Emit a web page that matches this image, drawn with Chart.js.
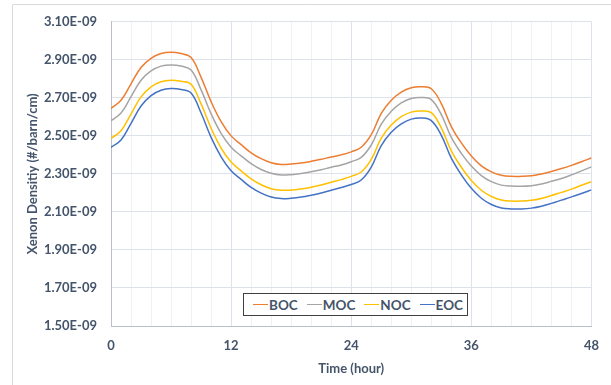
<!DOCTYPE html>
<html>
<head>
<meta charset="utf-8">
<script src="https://cdn.jsdelivr.net/npm/chart.js@4"></script>
<style>
  html, body { margin: 0; padding: 0; background: #fff; }
  #wrap { position: relative; width: 611px; height: 385px; }
  #legend {
    position: absolute; left: 243px; top: 293px; width: 214px; height: 21px;
    border: 1px solid #404040; background: #fff;
    font: bold 13.5px Lato, "Open Sans", sans-serif; color: #44546A;
    display: flex; align-items: center; padding-left: 9px; box-sizing: content-box;
  }
  #legend span.item { display: flex; align-items: center; margin-right: 9px; }
  #legend span.sw { display: inline-block; width: 15px; height: 1.5px; margin-right: 1px; }
</style>
</head>
<body>
<div id="wrap">
  <canvas id="c" width="611" height="385"></canvas>
  <div id="legend"></div>
</div>
<script>
// Xenon density over 48 h, four core states (values in units of 1E-09 #/barn/cm)
const hours = [0,1,2,3,4,5,6,7,8,9,10,11,12,13,14,15,16,17,18,19,20,21,22,23,24,
  25,26,27,28,29,30,31,32,33,34,35,36,37,38,39,40,41,42,43,44,45,46,47,48];

const boc = [2.645,2.687,2.774,2.860,2.908,2.933,2.940,2.933,2.912,2.808,2.680,2.575,2.500,
  2.454,2.411,2.380,2.359,2.350,2.352,2.357,2.366,2.377,2.389,2.400,2.416,
  2.440,2.506,2.618,2.687,2.730,2.753,2.758,2.748,2.670,2.549,2.463,2.394,
  2.342,2.311,2.293,2.287,2.287,2.290,2.300,2.313,2.328,2.345,2.364,2.384];
const moc = [2.580,2.620,2.706,2.793,2.842,2.867,2.873,2.867,2.846,2.742,2.616,2.513,2.440,
  2.395,2.354,2.323,2.303,2.294,2.296,2.302,2.311,2.322,2.335,2.347,2.364,
  2.387,2.452,2.562,2.630,2.673,2.697,2.702,2.691,2.612,2.492,2.408,2.341,
  2.291,2.259,2.241,2.236,2.235,2.238,2.247,2.261,2.276,2.295,2.316,2.337];
const noc = [2.487,2.527,2.615,2.705,2.758,2.785,2.793,2.787,2.772,2.668,2.540,2.436,2.362,
  2.316,2.274,2.243,2.222,2.214,2.215,2.221,2.230,2.242,2.256,2.270,2.287,
  2.310,2.376,2.488,2.557,2.601,2.625,2.631,2.622,2.542,2.421,2.335,2.265,
  2.214,2.181,2.163,2.157,2.157,2.161,2.171,2.186,2.203,2.220,2.240,2.259];
const eoc = [2.440,2.478,2.566,2.657,2.712,2.740,2.749,2.744,2.725,2.620,2.492,2.390,2.316,
  2.271,2.229,2.199,2.178,2.170,2.172,2.178,2.188,2.200,2.214,2.228,2.244,
  2.268,2.336,2.449,2.519,2.563,2.588,2.594,2.580,2.503,2.383,2.295,2.224,
  2.172,2.139,2.121,2.116,2.116,2.120,2.130,2.145,2.162,2.179,2.197,2.216];

const seriesNames = ["BOC", "MOC", "NOC", "EOC"];
const seriesColors = ["#ED7D31", "#A5A5A5", "#FFC000", "#4472C4"];
const xTicks = [0, 12, 24, 36, 48];
const yMin = 1.5, yMax = 3.1, yStep = 0.2;

const FONT = 'Lato, "Open Sans", sans-serif';
const TXT = "#44546A";

// light outer frame of the chart object
const frame = {
  id: "frame",
  beforeDraw(chart) {
    const c = chart.ctx;
    c.save();
    c.fillStyle = "#fff";
    c.fillRect(0, 0, chart.width, chart.height);
    c.strokeStyle = "#D9D9D9";
    c.lineWidth = 1;
    c.beginPath();
    c.moveTo(12.5, chart.height);
    c.lineTo(12.5, 4.5);
    c.lineTo(chart.width, 4.5);
    c.stroke();
    c.restore();
  },
};

const all = [boc, moc, noc, eoc];
const datasets = all.map((vals, i) => ({
  label: seriesNames[i],
  data: hours.map((h, j) => ({ x: h, y: vals[j] })),
  borderColor: seriesColors[i],
  borderWidth: 1.5,
  pointRadius: 0,
  tension: 0.4,
  fill: false,
}));

new Chart(document.getElementById("c"), {
  type: "line",
  data: { datasets },
  options: {
    responsive: false,
    animation: false,
    layout: { padding: { top: 17, right: 13, left: 0, bottom: 0 } },
    plugins: { legend: { display: false }, tooltip: { enabled: false } },
    scales: {
      x: {
        type: "linear", min: 0, max: 48,
        afterFit: (s) => { s.height = 59; },
        ticks: {
          stepSize: 2, autoSkip: false, maxRotation: 0, padding: 12,
          color: TXT, font: { family: FONT, size: 13, weight: "bold" },
          callback: (v) => (xTicks.includes(v) ? String(v) : ""),
        },
        grid: {
          drawTicks: false,
          color: (ctx) => (ctx.tick && ctx.tick.value % 12 === 0 ? "#DDE2EA" : "#EFF1F5"),
        },
        border: { color: "#B8C0CC" },
        title: {
          display: true, text: "Time (hour)", color: TXT, padding: { top: 4, bottom: 8 },
          font: { family: FONT, size: 13, weight: "bold" },
        },
      },
      y: {
        min: yMin, max: yMax,
        afterFit: (s) => { s.width = 111; },
        ticks: {
          stepSize: yStep, padding: 14, color: TXT,
          font: { family: FONT, size: 13, weight: "bold" },
          callback: (v) => v.toFixed(2) + "E-09",
        },
        grid: { drawTicks: false, color: "#DDE2EA" },
        border: { color: "#B8C0CC" },
        title: {
          display: true, text: "Xenon Densitiy (#/barn/cm)", color: TXT, padding: { top: 25, bottom: 0 },
          font: { family: FONT, size: 13, weight: "bold" },
        },
      },
    },
  },
  plugins: [frame],
});

// legend as html, inside the plot area
const lg = document.getElementById("legend");
seriesNames.forEach((n, i) => {
  const it = document.createElement("span");
  it.className = "item";
  it.innerHTML = '<span class="sw" style="background:' + seriesColors[i] + '"></span>' + n;
  lg.appendChild(it);
});
</script>
</body>
</html>
